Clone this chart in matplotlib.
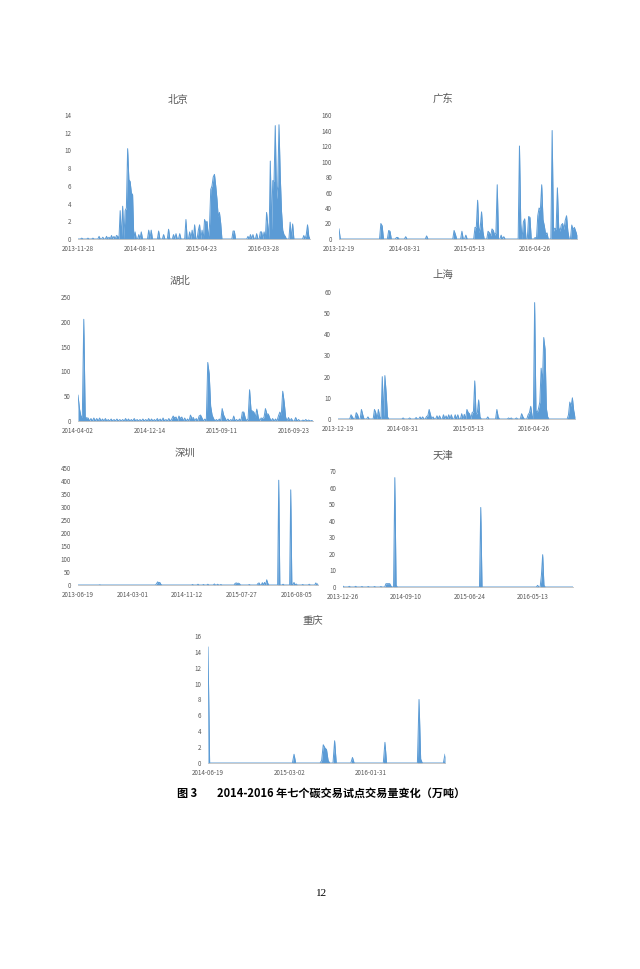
import numpy as np
import matplotlib
matplotlib.use('Agg')
import matplotlib.pyplot as plt

plt.rcParams['font.family'] = ['Noto Sans CJK SC', 'DejaVu Sans']

W, H = 640, 969
BLUE = '#5B9BD5'
GREY = '#595959'
STEP = 50  # points between two date labels

# (point index, volume) pairs; every other point is zero
beijing = [(3, .1), (8, .1), (12, .1), (17, .3), (20, .2), (23, .3), (25, .2), (27, .4), (29, .3),
           (31, .4), (32, .3), (34, 3.2), (36, 3.7), (38, 3.2), (39, 3.5), (40, 10.2), (41, 6.7),
           (42, 6.5), (43, 5.2), (44, 5.0), (46, .8), (49, .5), (51, .8), (57, 1.0), (59, 1.0),
           (65, .9), (69, .5), (73, 1.1), (77, .5), (79, .6), (82, .6), (87, 2.2), (90, .8),
           (92, 1.0), (94, 1.6), (97, 1.0), (98, 1.6), (100, 1.0), (102, 2.2), (103, 1.8),
           (104, 2.0), (106, 1.5), (107, 5.6), (108, 6.0), (109, 7.0), (110, 7.3), (111, 6.0),
           (112, 4.5), (113, 2.5), (114, 3.0), (115, 1.8), (125, .9), (126, .9), (137, .3),
           (139, .5), (141, .5), (144, .6), (147, .8), (148, .8), (150, .8), (152, 3.0), (153, 1.5),
           (155, 8.8), (156, 1.0), (157, 6.6), (158, 6.5), (159, 12.8), (160, 4.5), (161, 6.0),
           (162, 12.9), (163, 7.2), (164, 3.2), (165, 1.0), (166, .5), (167, .3), (171, 1.9),
           (173, 1.7), (182, .4), (184, .5), (185, 1.6), (186, .3)]
bj_n = 188
bj_dates = ['2013-11-28', '2014-08-11', '2015-04-23', '2016-03-28']
bj_yticks = list(range(0, 15, 2))

guangdong = [(0, 13), (32, 20), (33, 17), (38, 11), (39, 10), (44, 2), (45, 2), (51, 3), (67, 4),
             (88, 11), (89, 6), (94, 10), (97, 5), (104, 15), (105, 15), (106, 50), (107, 8),
             (108, 15), (109, 35), (110, 10), (114, 10), (115, 8), (116, 4), (117, 13), (118, 11),
             (119, 5), (120, 8), (121, 70), (124, 5), (126, 3), (138, 120), (139, 20), (141, 22),
             (142, 26), (145, 29), (146, 28), (150, 2), (152, 30), (153, 40), (154, 38), (155, 70),
             (156, 25), (157, 17), (158, 6), (159, 8), (163, 140), (164, 10), (165, 14), (166, 12),
             (167, 66), (168, 15), (169, 10), (170, 18), (171, 20), (172, 12), (173, 24), (174, 30),
             (175, 10), (178, 18), (179, 12), (180, 15), (181, 10), (182, 5)]
gd_n = 183
gd_dates = ['2013-12-19', '2014-08-31', '2015-05-13', '2016-04-26']
gd_yticks = list(range(0, 161, 20))

hubei = [(0, 52), (1, 25), (2, 10), (3, 8), (4, 205), (5, 8), (6, 6), (7, 6), (9, 5), (11, 6),
         (13, 5), (15, 6), (17, 4), (19, 5), (21, 3), (23, 4), (25, 3), (27, 4), (29, 3), (31, 3),
         (33, 5), (35, 4), (37, 3), (39, 5), (41, 3), (43, 3), (45, 4), (47, 3), (49, 5), (51, 4),
         (53, 3), (55, 5), (57, 4), (59, 6), (61, 3), (63, 5), (65, 4), (66, 10), (67, 6), (68, 8),
         (70, 10), (71, 5), (72, 8), (74, 6), (76, 4), (78, 12), (79, 5), (80, 7), (82, 5),
         (84, 10), (85, 12), (86, 6), (88, 4), (90, 118), (91, 95), (92, 30), (93, 12), (94, 5),
         (96, 3), (98, 4), (100, 25), (101, 12), (102, 6), (104, 4), (106, 3), (108, 10), (110, 3),
         (112, 4), (114, 18), (115, 18), (116, 6), (118, 5), (119, 63), (120, 22), (121, 20),
         (122, 18), (123, 8), (124, 24), (125, 8), (127, 6), (128, 5), (129, 7), (130, 25),
         (131, 14), (132, 14), (133, 6), (135, 5), (137, 4), (139, 10), (140, 18), (141, 12),
         (142, 60), (143, 38), (144, 8), (146, 7), (148, 5), (151, 7), (153, 3), (156, 2),
         (158, 3), (160, 2), (162, 1)]
hb_n = 164
hb_dates = ['2014-04-02', '2014-12-14', '2015-09-11', '2016-09-23']
hb_yticks = list(range(0, 251, 50))

shanghai = [(10, 2), (11, 1), (14, 3), (15, 2), (18, 4.5), (19, 2), (23, 1), (28, 4.5), (29, 3),
            (31, 4.5), (32, 1), (34, 20), (35, 1), (36, 20.5), (37, 12), (38, 1), (50, .5),
            (55, .5), (60, .7), (63, 1), (65, 1), (68, 1.2), (69, 1.5), (70, 4.5), (71, 2), (73, 1),
            (76, 1.5), (78, 1.5), (81, 2), (83, 1.5), (85, 2), (87, 2), (90, 2), (92, 2), (95, 2.5),
            (97, 2.2), (99, 4.5), (100, 3), (101, 2.5), (103, 3), (104, 3.5), (105, 18), (106, 2),
            (107, 3), (108, 9), (109, 1), (115, 1), (122, 4.5), (123, 1), (131, .5), (133, .5),
            (137, .5), (141, 2.5), (142, 1), (146, 2), (147, 3), (148, 6), (149, 1.5), (151, 55),
            (152, 4), (153, 3), (154, 5), (155, 8), (156, 24), (157, 17), (158, 38.5), (159, 33),
            (160, 5), (161, 1), (177, 2), (178, 8), (179, 6), (180, 10), (181, 4), (182, 1)]
sh_n = 183
sh_dates = ['2013-12-19', '2014-08-31', '2015-05-13', '2016-04-26']
sh_yticks = list(range(0, 61, 10))

shenzhen = [(20, 1), (72, 5), (73, 12), (74, 8), (75, 10), (76, 2), (105, 2), (110, 3), (115, 2),
            (119, 3), (125, 4), (128, 3), (131, 2), (144, 6), (145, 8), (146, 6), (147, 7),
            (148, 5), (157, 2), (165, 6), (166, 8), (169, 9), (171, 10), (173, 20), (174, 6),
            (184, 403), (188, 3), (195, 366), (196, 5), (198, 10), (200, 4), (206, 2), (212, 3),
            (218, 8), (220, 5)]
sz_n = 221
sz_dates = ['2013-06-19', '2014-03-01', '2014-11-12', '2015-07-27', '2016-08-05']
sz_yticks = list(range(0, 451, 50))

tianjin = [(0, .5), (5, .4), (10, .4), (15, .3), (20, .3), (25, .3), (30, .3), (34, 2), (35, 2),
           (36, 2), (37, 2), (38, .5), (41, 66), (42, 1), (109, 48), (154, 1), (157, 7),
           (158, 19.5), (159, 1)]
tj_n = 183
tj_dates = ['2013-12-26', '2014-09-10', '2015-06-24', '2016-05-13']
tj_yticks = list(range(0, 71, 10))

chongqing = [(0, 14.6), (53, 1.1), (70, .3), (71, 2.3), (72, 1.9), (73, 1.7), (74, .3), (78, 2.8),
             (89, .7), (109, 2.6), (130, 8.0), (131, .5), (146, 1.1)]
cq_n = 147
cq_dates = ['2014-06-19', '2015-03-02', '2016-01-31']
cq_yticks = list(range(0, 17, 2))

# title, data, length, labels, yticks, plot box in pixels (left, right, bottom, top), title centre
panels = [
    ('北京', beijing, bj_n, bj_dates, bj_yticks, (78, 310, 239, 115), (178, 100)),
    ('广东', guangdong, gd_n, gd_dates, gd_yticks, (339, 577, 239, 115), (443, 99)),
    ('湖北', hubei, hb_n, hb_dates, hb_yticks, (78, 313, 421, 297), (180, 281)),
    ('上海', shanghai, sh_n, sh_dates, sh_yticks, (338, 575, 419, 292), (443, 275)),
    ('深圳', shenzhen, sz_n, sz_dates, sz_yticks, (78, 318, 585, 468), (185, 453)),
    ('天津', tianjin, tj_n, tj_dates, tj_yticks, (343, 573, 587, 471), (443, 456)),
    ('重庆', chongqing, cq_n, cq_dates, cq_yticks, (208, 445, 763, 636), (313, 620)),
]

fig = plt.figure(figsize=(W / 100, H / 100), dpi=100)

for title, pts, n, dates, yticks, box, tpos in panels:
    x0, x1, y0, y1 = box
    ax = fig.add_axes([x0 / W, 1 - y0 / H, (x1 - x0) / W, (y0 - y1) / H])
    vals = np.zeros(n)
    idx, v = zip(*pts)
    vals[list(idx)] = v
    x = np.arange(n)
    ax.fill_between(x, vals, color=BLUE, lw=0)
    ax.plot(x, vals, color=BLUE, lw=0.7)
    ax.set_xlim(0, n - 1)
    ax.set_ylim(0, yticks[-1])
    ax.set_yticks(yticks)
    ax.set_xticks(np.arange(len(dates)) * STEP)
    ax.set_xticklabels(dates)
    ax.tick_params(length=0, labelsize=4.5, labelcolor=GREY)
    ax.tick_params(axis='y', pad=5)
    ax.tick_params(axis='x', pad=4)
    for s in ['top', 'right', 'left']:
        ax.spines[s].set_visible(False)
    ax.spines['bottom'].set_color('#BFBFBF')
    ax.spines['bottom'].set_linewidth(0.6)
    fig.text(tpos[0] / W, 1 - tpos[1] / H, title, ha='center', va='center',
             fontsize=7.5, color=GREY)

fig.text(177 / W, 1 - 793 / H, '图 3', ha='left', va='center', fontsize=8,
         fontweight='bold', color='black')
fig.text(217 / W, 1 - 793 / H, '2014-2016 年七个碳交易试点交易量变化（万吨）', ha='left',
         va='center', fontsize=8, fontweight='bold', color='black')
fig.text(322 / W, 1 - 894 / H, '12', ha='center', va='center', fontsize=8,
         family='Liberation Serif', color='black')

fig.savefig('out.png', dpi=100, facecolor='white')
